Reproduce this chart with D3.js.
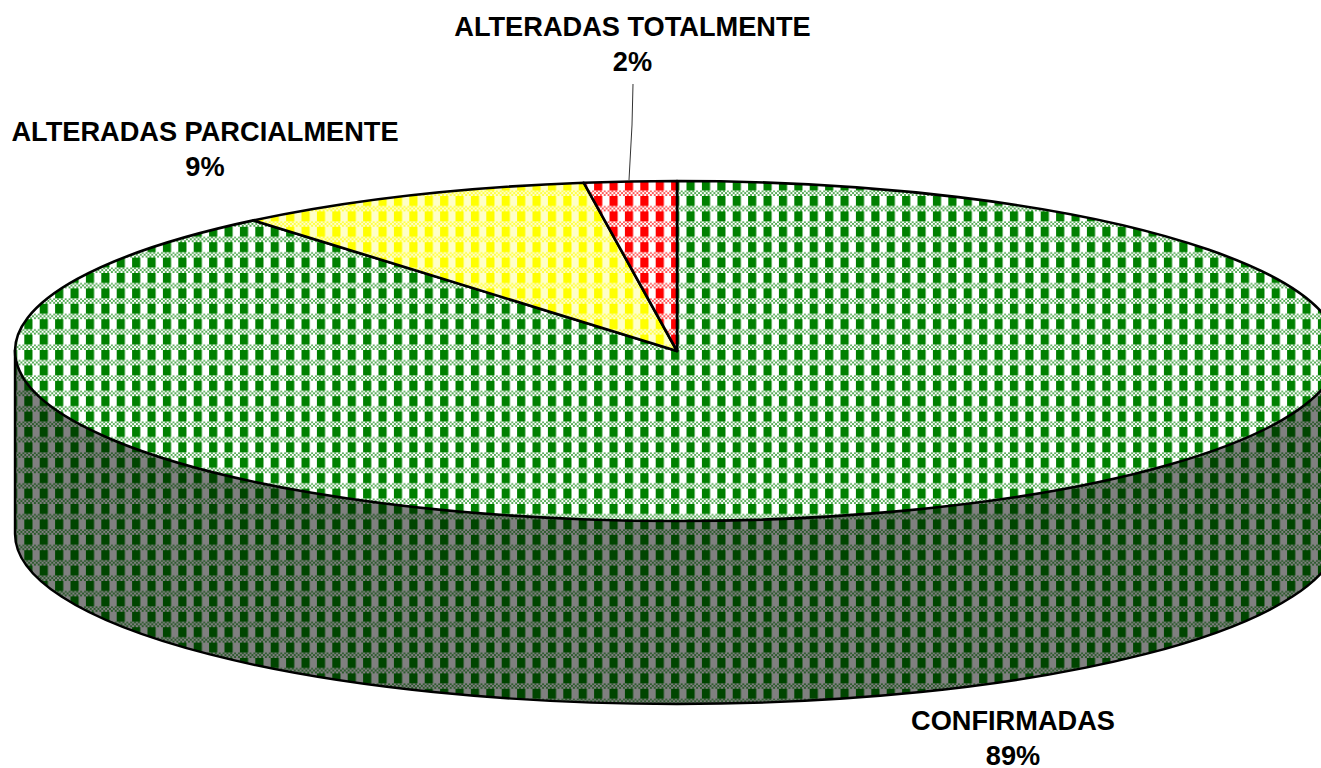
<!DOCTYPE html>
<html><head><meta charset="utf-8">
<script src="https://cdn.jsdelivr.net/npm/d3@7"></script>
<style>html,body{margin:0;padding:0;background:#fff;overflow:hidden}svg{display:block}
text{font-family:"Liberation Sans",Arial,sans-serif;font-weight:bold;fill:#000;text-anchor:middle}</style>
</head><body><svg id="c" width="1321" height="768"></svg>
<script>
const categories = ["CONFIRMADAS","ALTERADAS PARCIALMENTE","ALTERADAS TOTALMENTE"];
const values = [88.95, 8.8, 2.25];
const percentLabels = ["89%","9%","2%"];
const foreground = ["#008000","#ffff00","#ff0000"];
const background = ["#ffffff","#ffffc8","#ffffff"];
const W=1321,H=768,cx=677,cy=351,rx=662,ry=170,depth=183;
const svg=d3.select("#c");
const defs=svg.append("defs");
const cell=1.925;
function makePattern(id,fg,bg,phaseX,phaseY){
  const p=defs.append("pattern").attr("id",id).attr("patternUnits","userSpaceOnUse")
    .attr("width",8*cell).attr("height",8*cell)
    .attr("patternTransform",`translate(${phaseX},${phaseY})`);
  p.append("rect").attr("width",8*cell).attr("height",8*cell).attr("fill",bg);
  p.append("rect").attr("width",4.25*cell).attr("height",5.2*cell).attr("fill",fg);
  for(let j=5;j<8;j++)for(let i=0;i<8;i++) if((i+j)%2===0)
    p.append("rect").attr("x",i*cell).attr("y",j*cell+0.2*cell*(j===5?1:0)).attr("width",cell).attr("height",cell*(j===5?0.8:1)).attr("fill",fg).attr("opacity",0.66);
}
foreground.forEach((c,i)=>makePattern("p"+i,c,background[i],686.5,196));
makePattern("wall","#004500","#808080",686.5,196);

const pie=d3.pie().sort(null).value(d=>d);
const arcs=pie(values);
const X=d3.scaleLinear([-1,1],[cx-rx,cx+rx]);
const Y=d3.scaleLinear([-1,1],[cy-ry,cy+ry]);

// side wall
svg.append("path")
 .attr("d",`M${X(-1)},${Y(0)}L${X(-1)},${Y(0)+depth}A${rx},${ry} 0 0 0 ${X(1)},${Y(0)+depth}L${X(1)},${Y(0)}Z`)
 .attr("fill","url(#wall)").attr("stroke","#000").attr("stroke-width",2.4);

// top slices
arcs.forEach((a,i)=>{
  const x0=X(Math.sin(a.startAngle)),y0=Y(-Math.cos(a.startAngle));
  const x1=X(Math.sin(a.endAngle)),y1=Y(-Math.cos(a.endAngle));
  const large=a.endAngle-a.startAngle>Math.PI?1:0;
  svg.append("path")
   .attr("d",`M${X(0)},${Y(0)}L${x0},${y0}A${rx},${ry} 0 ${large} 1 ${x1},${y1}Z`)
   .attr("fill",`url(#p${i})`).attr("stroke","#000").attr("stroke-width",2.6).attr("stroke-linejoin","round");
});

// leader line
svg.append("path").attr("d","M633,84L632,125L629,180").attr("fill","none").attr("stroke","#333").attr("stroke-width",1);

// labels
const labelPos=[[1013,730,765],[205,141,176],[632.5,36,71]];
categories.forEach((c,i)=>{
  const [x,y1,y2]=labelPos[i];
  svg.append("text").attr("x",x).attr("y",y1).attr("font-size",27.2).text(c);
  svg.append("text").attr("x",x).attr("y",y2).attr("font-size",27.2).text(percentLabels[i]);
});
</script></body></html>
